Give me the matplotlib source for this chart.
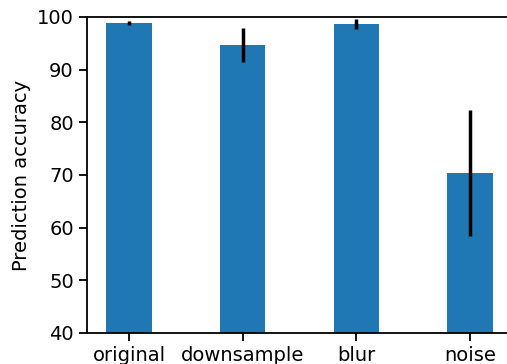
import numpy as np
import matplotlib
matplotlib.use("Agg")
import matplotlib.pyplot as plt

conditions = ["original", "downsample", "blur", "noise"]
accuracy = [98.85, 94.7, 98.65, 70.4]
errors = [0.45, 3.15, 0.95, 12.0]

plt.rcParams['font.size'] = 14

fig = plt.figure(figsize=(5.07, 3.64), dpi=100)
ax = fig.add_axes([87 / 507, 31 / 364, 425 / 507, 316 / 364])

x = np.arange(len(conditions))
ax.bar(x, accuracy, width=0.4, color="#1f77b4")
ax.errorbar(x, accuracy, yerr=errors, fmt="none", ecolor="black", elinewidth=2.5)

ax.set_xticks(x)
ax.set_xticklabels(conditions)
ax.set_ylim(40, 100)
ax.set_xlim(-0.37, 3.37)
ax.set_ylabel("Prediction accuracy", labelpad=4)
ax.spines["right"].set_visible(False)
for s in ["left", "bottom", "top"]:
    ax.spines[s].set_linewidth(1.3)
ax.tick_params(width=1.3, length=6)

fig.savefig("out.png", dpi=100)
